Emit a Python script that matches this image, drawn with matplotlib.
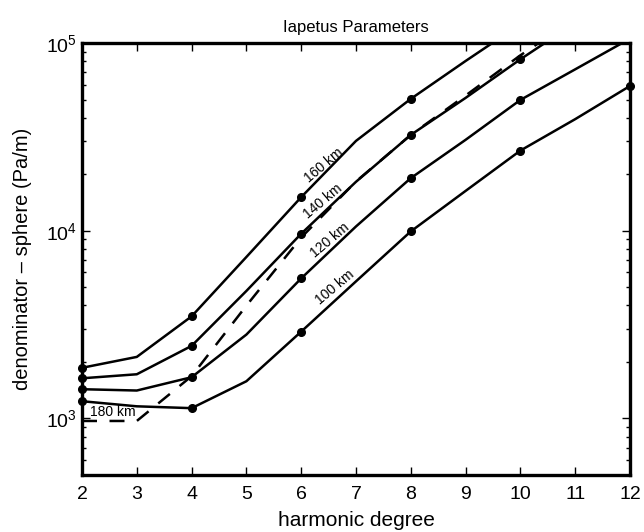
import matplotlib
matplotlib.use("Agg")
import matplotlib.pyplot as plt
import numpy as np
from matplotlib.ticker import LogLocator, LogFormatterMathtext, NullFormatter

plt.rcParams['font.family'] = ['Liberation Sans', 'DejaVu Sans']
plt.rcParams['mathtext.fontset'] = 'custom'
plt.rcParams['mathtext.rm'] = 'Liberation Sans'
plt.rcParams['mathtext.it'] = 'Liberation Sans:italic'

degrees = [2, 3, 4, 5, 6, 7, 8, 9, 10, 11, 12]
d100 = [1236, 1161, 1135, 1579, 2902, 5376, 9920, 16300, 26730, 39300, 59050]
d120 = [1432, 1409, 1659, 2799, 5575, 10540, 19070, 30500, 49750, 72400, 105500]
d140 = [1637, 1720, 2436, 4780, 9640, 18230, 32400, 51000, 81900, 128000, 195000]
d160 = [1862, 2128, 3499, 7250, 15100, 30100, 50400, 80200, 126000, 190000, 280000]
d180 = [970, 970, 1680, 3990, 9200, 18300, 32400, 52500, 86000, 135000, 200000]
solid_labels = ["100 km", "120 km", "140 km", "160 km"]
dashed_label = "180 km"

fig = plt.figure(figsize=(6.44, 5.32), dpi=100)
ax = fig.add_axes([82/644, 1-475/532, (630-82)/644, (475-43)/532])

ax.plot(degrees, d180, color='black', lw=1.8, ls=(0, (6, 5)))
for series in (d100, d120, d140, d160):
    ax.plot(degrees, series, color='black', lw=1.8)
    xs = [d for d, v in zip(degrees, series) if d % 2 == 0 and v <= 1e5]
    ys = [v for d, v in zip(degrees, series) if d % 2 == 0 and v <= 1e5]
    ax.plot(xs, ys, ls='none', marker='o', ms=5.5, color='black', clip_on=False, zorder=5)

ax.set_yscale('log')
ax.set_xlim(2, 12)
ax.set_ylim(500, 1e5)
ax.set_xticks(range(2, 13))
ax.yaxis.set_major_locator(LogLocator(base=10, numticks=10))
ax.yaxis.set_major_formatter(LogFormatterMathtext())
ax.yaxis.set_minor_locator(LogLocator(base=10, subs=np.arange(2, 10), numticks=20))
ax.yaxis.set_minor_formatter(NullFormatter())

ax.tick_params(axis='both', which='both', direction='in', top=True, right=True, labelsize=14)
ax.tick_params(axis='both', which='major', length=6, width=1)
ax.tick_params(axis='y', which='minor', length=3, width=1)
ax.tick_params(axis='x', pad=8)
for s in ax.spines.values():
    s.set_linewidth(2.4)

ax.set_title("Iapetus Parameters", fontsize=12, pad=8)
ax.set_xlabel("harmonic degree", fontsize=15, labelpad=6)
ax.set_ylabel("denominator \u2013 sphere (Pa/m)", fontsize=14.5, labelpad=10)

label_pos = [(6.62, 4980), (6.53, 8950), (6.40, 14270), (6.42, 22450)]
for lab, (x, y) in zip(solid_labels, label_pos):
    ax.text(x, y, lab, rotation=40, fontsize=10, ha='center', va='center', rotation_mode='anchor')
ax.text(2.57, 1077, dashed_label, fontsize=10, ha='center', va='center')

fig.savefig("out.png", dpi=100)
